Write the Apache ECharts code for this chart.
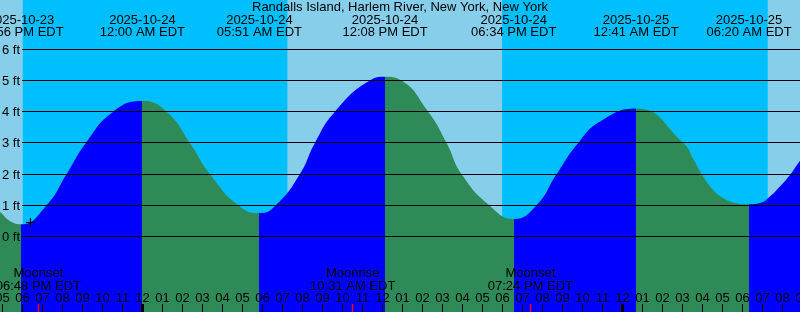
<!DOCTYPE html>
<html><head><meta charset="utf-8">
<script src="https://cdn.jsdelivr.net/npm/echarts@6/dist/echarts.min.js"></script>
<style>html,body{margin:0;padding:0;background:#fff}#c{width:800px;height:312px}</style>
</head><body><div id="c"></div>
<script>
const chartTitle = 'Randalls Island, Harlem River, New York, New York';
// high / low tide events
const tideDates = ['2025-10-23','2025-10-24','2025-10-24','2025-10-24','2025-10-24','2025-10-25','2025-10-25'];
const tideTimes = ['05:56 PM','12:00 AM','05:51 AM','12:08 PM','06:34 PM','12:41 AM','06:20 AM'];
const tideFeet  = [0.39, 4.34, 0.75, 5.12, 0.56, 4.10, 1.03];
// readings of the curve between events (hours from 2025-10-24 00:00 EDT, feet)
const curveHours = [-7.6, -7.1, -6.625, -4.79, -3.79, -2.825, -1.46, 1.21, 2.375, 3.375, 4.79, 6.675, 7.875, 8.625, 9.625, 11.375, 12.875, 14.29, 15.21, 15.96, 17.34, 19.71, 20.71, 21.79, 22.875, 27.04, 27.575, 27.96, 28.54, 29.04, 29.54, 30.875, 31.375, 31.875, 32.375, 32.79, 33.3];
const curveFeet  = [1.05, 0.78, 0.50, 1.0, 2.0, 3.0, 4.0, 4.0, 3.0, 2.0, 1.0, 1.0, 2.0, 3.0, 4.0, 5.0, 5.02, 4.0, 3.0, 2.0, 1.0, 1.0, 2.0, 3.0, 3.68, 3.0, 2.45, 2.0, 1.49, 1.23, 1.09, 1.07, 1.28, 1.6, 1.97, 2.35, 2.75];
// sun events (night = sunset .. sunrise)
const sunDates = ['2025-10-23','2025-10-24','2025-10-24','2025-10-25'];
const sunTimes = ['06:01 PM','07:15 AM','05:59 PM','07:16 AM'];
const sunEvents = ['sunset','sunrise','sunset','sunrise'];
// moon events
const moonDates = ['2025-10-23','2025-10-24','2025-10-24'];
const moonTimes = ['06:48 PM','10:31 AM','07:24 PM'];
const moonEvents = ['Moonset','Moonrise','Moonset'];
// axes
const heightTicks = [0, 1, 2, 3, 4, 5, 6];
const hourTicks = [-7,-6,-5,-4,-3,-2,-1,0,1,2,3,4,5,6,7,8,9,10,11,12,13,14,15,16,17,18,19,20,21,22,23,24,25,26,27,28,29,30,31,32,33];
const nowMark = [-5.62, 0.455];

const X_MIN = -7.12, X_MAX = 32.88, Y_MIN = -2.42, Y_MAX = 7.58;
const FAMILY = '"Liberation Sans", Arial, sans-serif';
const FONT = '13px ' + FAMILY;
const C_DAY = '#87CEEB', C_NIGHT = '#00BFFF', C_FLOOD = '#0000FF', C_EBB = '#2E8B57';

function toHours(d, t) {
  const day = +d.slice(8, 10) - 24;
  const parts = t.split(' ');
  const hm = parts[0].split(':').map(Number);
  let hh = hm[0] % 12;
  if (parts[1] === 'PM') hh += 12;
  return day * 24 + hh + hm[1] / 60;
}
const tideHours = tideDates.map((d, i) => toHours(d, tideTimes[i]));
const sunHours = sunDates.map((d, i) => toHours(d, sunTimes[i]));
const moonHours = moonDates.map((d, i) => toHours(d, moonTimes[i]));

const tidePts = tideHours.map((h, i) => [h, tideFeet[i]])
  .concat(curveHours.map((h, i) => [h, curveFeet[i]]))
  .sort((a, b) => a[0] - b[0]);

// flood/ebb pieces
const pieces = [];
const n = tideHours.length;
pieces.push({lt: tideHours[0], color: tideFeet[1] > tideFeet[0] ? C_EBB : C_FLOOD});
for (let i = 0; i < n - 1; i++) {
  pieces.push({gte: tideHours[i], lt: tideHours[i + 1], color: tideFeet[i + 1] > tideFeet[i] ? C_FLOOD : C_EBB});
}
pieces.push({gte: tideHours[n - 1], color: tideFeet[n - 1] > tideFeet[n - 2] ? C_EBB : C_FLOOD});

const nights = [];
for (let i = 0; i < sunHours.length; i++) {
  if (sunEvents[i] === 'sunset' && sunEvents[i + 1] === 'sunrise') nights.push([sunHours[i], sunHours[i + 1]]);
}

function pad(h) {
  let k = ((h % 12) + 12) % 12; if (k === 0) k = 12;
  return (k < 10 ? '0' : '') + k;
}
function txt(text, x, y, align) {
  return {type: 'text', style: {text: text, x: x, y: y, align: align || 'center', verticalAlign: 'middle', font: FONT, fill: '#000'}};
}

const chart = echarts.init(document.getElementById('c'), null, {renderer: 'canvas'});
chart.setOption({
  animation: false,
  title: {text: chartTitle, left: 'center', top: 1, padding: 0,
    textStyle: {fontSize: 13, fontWeight: 'normal', color: '#000', fontFamily: FAMILY}},
  grid: [
    {left: 0, right: 0, top: 0, bottom: 0, show: true, backgroundColor: C_DAY, borderWidth: 0},
    {left: 22, right: 0, top: 0, bottom: 0}
  ],
  xAxis: [
    {type: 'value', gridIndex: 0, min: X_MIN, max: X_MAX, show: false},
    {type: 'value', gridIndex: 1, min: X_MIN, max: X_MAX, show: false}
  ],
  yAxis: [
    {type: 'value', gridIndex: 0, min: Y_MIN, max: Y_MAX, show: false},
    {type: 'value', gridIndex: 1, min: Y_MIN, max: Y_MAX, show: false}
  ],
  visualMap: {type: 'piecewise', show: false, dimension: 0, seriesIndex: 1, pieces: pieces},
  series: [
    { // night bands
      type: 'custom', xAxisIndex: 0, yAxisIndex: 0, z: 1, silent: true,
      data: nights,
      renderItem: function (params, api) {
        const a = api.coord([api.value(0), Y_MAX]);
        const b = api.coord([api.value(1), Y_MIN]);
        return {type: 'rect', shape: {x: a[0], y: a[1], width: b[0] - a[0], height: b[1] - a[1]}, style: {fill: C_NIGHT}};
      }
    },
    { // tide curve
      type: 'line', xAxisIndex: 0, yAxisIndex: 0, z: 2, silent: true,
      data: tidePts, smooth: 0.5, showSymbol: false, symbol: 'none',
      lineStyle: {width: 0}, areaStyle: {opacity: 1, origin: 'start'}
    },
    { // height grid lines + labels
      type: 'custom', xAxisIndex: 1, yAxisIndex: 1, z: 3, silent: true,
      data: heightTicks.map(v => [X_MAX, v]),
      renderItem: function (params, api) {
        const cs = params.coordSys;
        const v = api.value(1);
        const y = Math.floor(api.coord([X_MAX, v])[1]) + 0.5;
        return {type: 'group', children: [
          {type: 'line', shape: {x1: cs.x, y1: y, x2: cs.x + cs.width, y2: y}, style: {stroke: '#000', lineWidth: 1}},
          txt(v + ' ft', cs.x - 2, y + 0.5, 'right')
        ]};
      }
    },
    { // tide event labels at top
      type: 'custom', xAxisIndex: 0, yAxisIndex: 0, z: 4, silent: true,
      data: tideHours.map((h, i) => [h, tideFeet[i]]),
      renderItem: function (params, api) {
        const x = api.coord([api.value(0), 0])[0];
        const i = params.dataIndex;
        return {type: 'group', children: [
          txt(tideDates[i], x, 20),
          txt(tideTimes[i] + ' EDT', x, 32.2)
        ]};
      }
    },
    { // hour ticks + labels
      type: 'custom', xAxisIndex: 0, yAxisIndex: 0, z: 4, silent: true,
      data: hourTicks.map(h => [h, Y_MIN]),
      renderItem: function (params, api) {
        const h = api.value(0);
        const p = api.coord([h, Y_MIN]);
        const x = Math.floor(p[0]) + 0.5;
        const bottom = p[1];
        const isMidnight = ((h % 24) + 24) % 24 === 0;
        const tick = isMidnight
          ? {type: 'rect', shape: {x: Math.floor(p[0]) - 1, y: bottom - 8, width: 3, height: 8}, style: {fill: '#000'}}
          : {type: 'line', shape: {x1: x, y1: bottom - 8, x2: x, y2: bottom}, style: {stroke: '#000', lineWidth: 1}};
        return {type: 'group', children: [tick, txt(pad(h), p[0], bottom - 13.8)]};
      }
    },
    { // moon events
      type: 'custom', xAxisIndex: 0, yAxisIndex: 0, z: 4, silent: true,
      data: moonHours.map(h => [h, Y_MIN]),
      renderItem: function (params, api) {
        const i = params.dataIndex;
        const p = api.coord([api.value(0), Y_MIN]);
        const x = Math.floor(p[0]) + 0.5;
        return {type: 'group', children: [
          {type: 'line', shape: {x1: x, y1: p[1] - 8, x2: x, y2: p[1]}, style: {stroke: '#FF0000', lineWidth: 1.5}},
          txt(moonEvents[i], p[0], p[1] - 38.2),
          txt(moonTimes[i] + ' EDT', p[0], p[1] - 26)
        ]};
      }
    },
    { // marker
      type: 'custom', xAxisIndex: 0, yAxisIndex: 0, z: 5, silent: true,
      data: [nowMark],
      renderItem: function (params, api) {
        const p = api.coord([api.value(0), api.value(1)]);
        const x = Math.floor(p[0]) + 0.5, y = Math.floor(p[1]) + 0.5;
        return {type: 'group', children: [
          {type: 'line', shape: {x1: x - 4.5, y1: y, x2: x + 4.5, y2: y}, style: {stroke: '#000', lineWidth: 1.2}},
          {type: 'line', shape: {x1: x, y1: y - 4.5, x2: x, y2: y + 4.5}, style: {stroke: '#000', lineWidth: 1.2}}
        ]};
      }
    }
  ]
});
</script></body></html>
